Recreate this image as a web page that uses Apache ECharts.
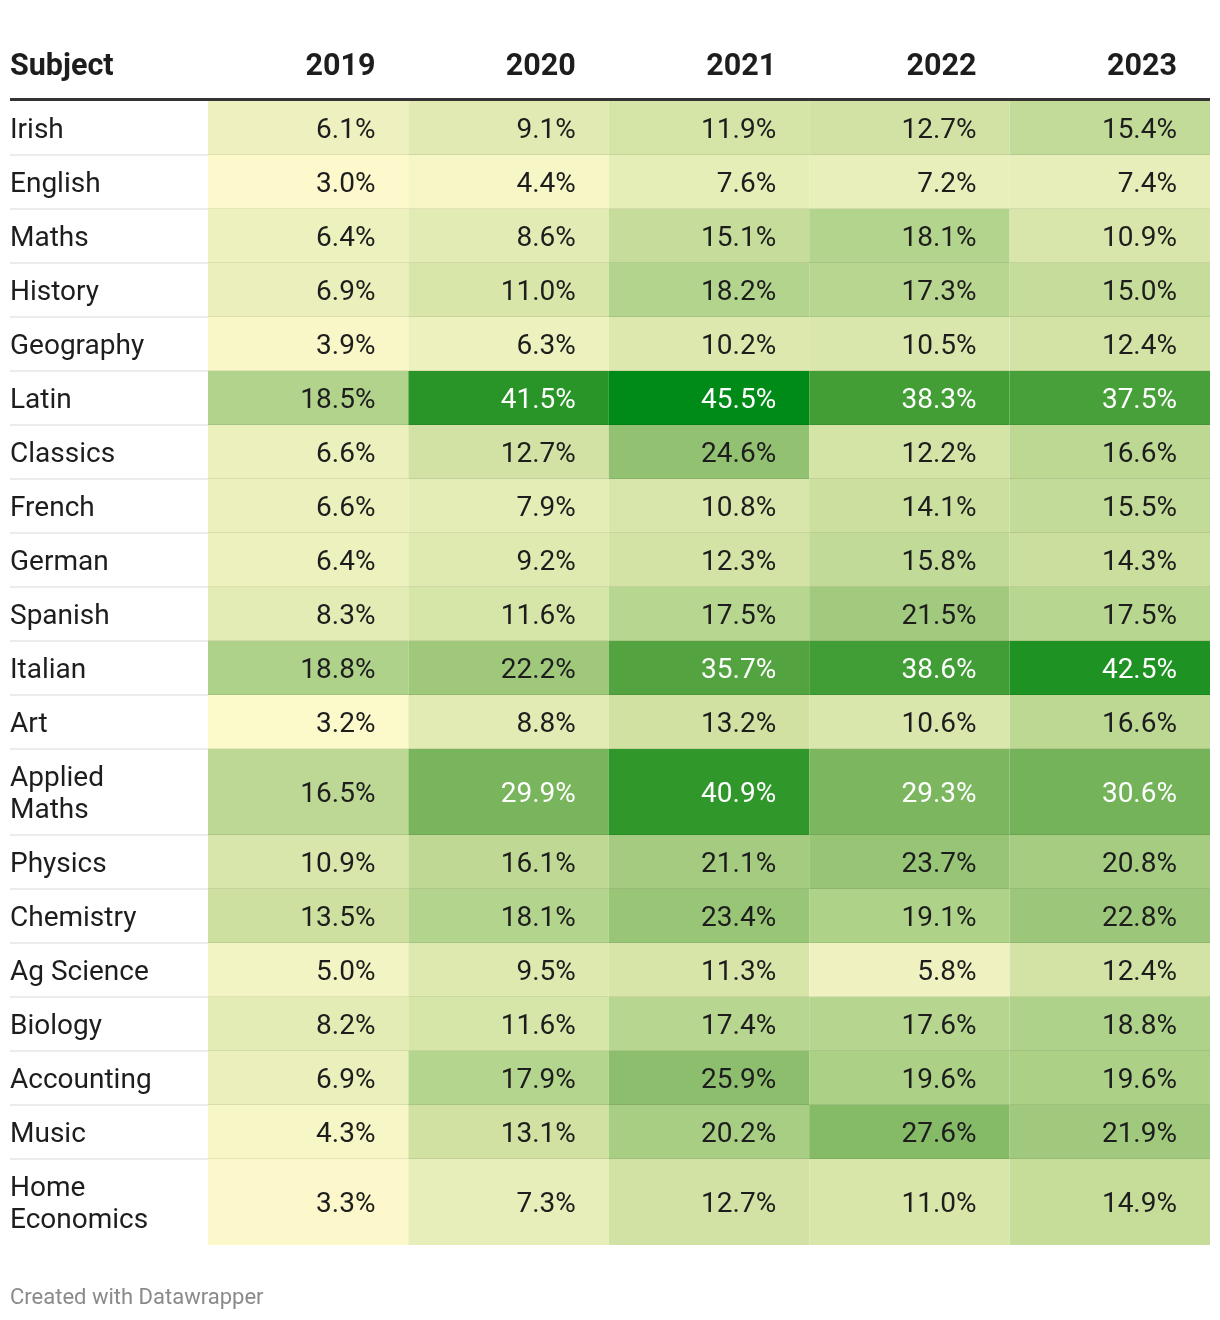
<!DOCTYPE html>
<html>
<head>
<meta charset="utf-8">
<script src="https://cdn.jsdelivr.net/npm/echarts@6/dist/echarts.min.js"></script>
<style>
html,body{margin:0;padding:0;background:#fff;}
#chart{width:1220px;height:1320px;}
</style>
</head>
<body>
<div id="chart"></div>
<script>
// ---- data ----
const headerLabel = 'Subject';
const years = ['2019', '2020', '2021', '2022', '2023'];
const subjects = ['Irish', 'English', 'Maths', 'History', 'Geography', 'Latin', 'Classics', 'French',
  'German', 'Spanish', 'Italian', 'Art', 'Applied\nMaths', 'Physics', 'Chemistry', 'Ag Science',
  'Biology', 'Accounting', 'Music', 'Home\nEconomics'];
const v2019 = [6.1, 3.0, 6.4, 6.9, 3.9, 18.5, 6.6, 6.6, 6.4, 8.3, 18.8, 3.2, 16.5, 10.9, 13.5, 5.0, 8.2, 6.9, 4.3, 3.3];
const v2020 = [9.1, 4.4, 8.6, 11.0, 6.3, 41.5, 12.7, 7.9, 9.2, 11.6, 22.2, 8.8, 29.9, 16.1, 18.1, 9.5, 11.6, 17.9, 13.1, 7.3];
const v2021 = [11.9, 7.6, 15.1, 18.2, 10.2, 45.5, 24.6, 10.8, 12.3, 17.5, 35.7, 13.2, 40.9, 21.1, 23.4, 11.3, 17.4, 25.9, 20.2, 12.7];
const v2022 = [12.7, 7.2, 18.1, 17.3, 10.5, 38.3, 12.2, 14.1, 15.8, 21.5, 38.6, 10.6, 29.3, 23.7, 19.1, 5.8, 17.6, 19.6, 27.6, 11.0];
const v2023 = [15.4, 7.4, 10.9, 15.0, 12.4, 37.5, 16.6, 15.5, 14.3, 17.5, 42.5, 16.6, 30.6, 20.8, 22.8, 12.4, 18.8, 19.6, 21.9, 14.9];
const footerText = 'Created with Datawrapper';

// ---- layout (rendering only) ----
const FONT = 'Roboto, "Noto Sans", sans-serif';
const SINGLE_H = 54, DOUBLE_H = 86;
const columns = [v2019, v2020, v2021, v2022, v2023];
const rowSpans = [];
let acc = 0;
subjects.forEach(s => {
  const h = s.split('\n').length > 1 ? DOUBLE_H : SINGLE_H;
  rowSpans.push([acc, acc + h]);
  acc += h;
});
const totalH = acc;
const GRID_TOP = 101, GRID_LEFT = 208, GRID_RIGHT = 10, SUBJ_W = 198;

const cellData = [];
columns.forEach((col, ci) => {
  col.forEach((v, ri) => {
    cellData.push([ci, rowSpans[ri][0], rowSpans[ri][1], v, ri]);
  });
});
const subjData = subjects.map((s, ri) => [0, rowSpans[ri][0], rowSpans[ri][1], ri]);
const headData = years.map((y, i) => [i, 0]);
const lastRow = subjects.length - 1;
const SEP = 'rgba(0,0,0,0.075)';

const chart = echarts.init(document.getElementById('chart'), null, {renderer: 'canvas'});
chart.setOption({
  animation: false,
  backgroundColor: '#fff',
  textStyle: {fontFamily: FONT},
  grid: {left: GRID_LEFT, right: GRID_RIGHT, top: GRID_TOP, height: totalH},
  xAxis: {type: 'category', data: years, show: false},
  yAxis: {type: 'value', min: 0, max: totalH, inverse: true, show: false},
  visualMap: {
    show: false, type: 'continuous', min: 3.0, max: 45.5, dimension: 3, seriesIndex: 0,
    inRange: {color: ['#fdf9cc', '#e3ecb5', '#cee0a0', '#aed289', '#95c273', '#7bb65f', '#58a645', '#37992e', '#008a17']}
  },
  series: [
    {
      type: 'custom',
      data: cellData,
      encode: {x: 0, y: [1, 2]},
      renderItem: function (params, api) {
        const ci = api.value(0);
        const top = api.coord([ci, api.value(1)]);
        const bot = api.coord([ci, api.value(2)]);
        const bw = api.size([1, 0])[0];
        const left = top[0] - bw / 2;
        const v = api.value(3);
        const ri = api.value(4);
        const children = [
          {type: 'rect', shape: {x: left, y: top[1], width: bw, height: bot[1] - top[1]},
           style: {fill: api.visual('color')}},
          {type: 'text', style: {
            x: left + bw - 33, y: (top[1] + bot[1]) / 2 + 2.5,
            text: v.toFixed(1) + '%', align: 'right', verticalAlign: 'middle',
            font: '400 28px ' + FONT, fill: v > 28.5 ? '#ffffff' : '#1d1d1d'}}
        ];
        if (ri !== lastRow) {
          children.push({type: 'rect', shape: {x: left, y: bot[1] - 1, width: bw, height: 2},
            style: {fill: SEP}});
        }
        return {type: 'group', children: children};
      }
    },
    {
      type: 'custom',
      data: subjData,
      encode: {x: 0, y: [1, 2]},
      renderItem: function (params, api) {
        const top = api.coord([0, api.value(1)]);
        const bot = api.coord([0, api.value(2)]);
        const bw = api.size([1, 0])[0];
        const gridLeft = top[0] - bw / 2;
        const left = gridLeft - SUBJ_W;
        const ri = api.value(3);
        const children = [
          {type: 'text', style: {
            x: left, y: (top[1] + bot[1]) / 2 + 2.5,
            text: subjects[ri], align: 'left', verticalAlign: 'middle', lineHeight: 32,
            font: '400 28px ' + FONT, fill: '#1d1d1d'}}
        ];
        if (ri !== lastRow) {
          children.push({type: 'rect', shape: {x: left, y: bot[1] - 1, width: SUBJ_W, height: 2},
            style: {fill: SEP}});
        }
        return {type: 'group', children: children};
      }
    },
    {
      type: 'custom',
      data: headData,
      encode: {x: 0, y: 1},
      renderItem: function (params, api) {
        const i = api.value(0);
        const c = api.coord([i, 0]);
        const bw = api.size([1, 0])[0];
        const children = [
          {type: 'text', style: {
            x: c[0] + bw / 2 - 33, y: c[1] - 34,
            text: years[i], align: 'right', verticalAlign: 'middle',
            font: '700 30.5px ' + FONT, fill: '#1d1d1d'}}
        ];
        if (i === 0) {
          children.push({type: 'text', style: {
            x: c[0] - bw / 2 - SUBJ_W, y: c[1] - 34,
            text: headerLabel, align: 'left', verticalAlign: 'middle',
            font: '700 30.5px ' + FONT, fill: '#1d1d1d'}});
          children.push({type: 'rect', shape: {x: c[0] - bw / 2 - SUBJ_W, y: c[1] - 3, width: SUBJ_W + bw * years.length, height: 3},
            style: {fill: '#333333'}});
        }
        return {type: 'group', children: children};
      }
    }
  ],
  graphic: [
    {type: 'text', left: 10, top: 1287,
     style: {text: footerText, font: '400 22px ' + FONT, fill: '#8a8a8a'}}
  ]
});
</script>
</body>
</html>
